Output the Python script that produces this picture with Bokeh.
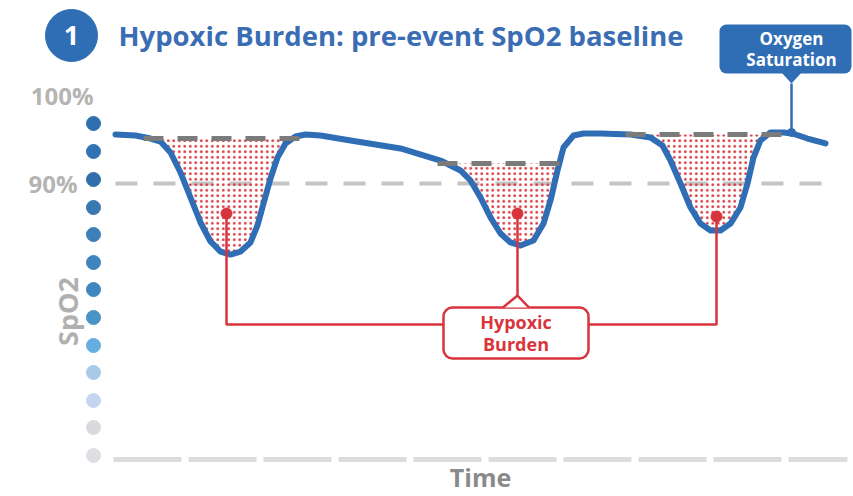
import numpy as np
from bokeh.plotting import figure
from bokeh.models import Range1d
from bokeh.core.properties import value
from bokeh.embed import file_html
from bokeh.resources import INLINE

# ---------------- data ----------------
time_s = [0, 20, 35, 45, 55, 65, 75, 85, 95, 105, 115, 125, 135, 142, 148, 155, 162, 170, 180, 190,
          205, 235, 285, 325, 345, 355, 365, 375, 385, 395, 405, 418, 428, 435, 442, 448, 458, 468, 485, 515,
          535, 547, 555, 565, 575, 585, 595, 605, 615, 625, 632, 638, 645, 655, 668, 677, 692, 710]
spo2 = [95.57, 95.45, 95.11, 94.77, 93.52, 91.25, 88.41, 85.57, 83.41, 82.27,
        81.93, 82.27, 83.30, 85.23, 87.73, 90.57, 92.95, 94.55, 95.34, 95.57,
        95.45, 94.89, 93.98, 92.61, 91.48, 90.34, 88.41, 86.14, 84.32, 83.30,
        82.95, 83.52, 85.45, 88.07, 91.48, 94.09, 95.45, 95.68, 95.68, 95.57,
        95.23, 94.32, 92.61, 90.00, 87.27, 85.45, 84.66, 84.66, 85.45, 87.27,
        90.00, 92.95, 94.89, 95.80, 95.80, 95.68, 95.11, 94.55]

event_fill_start = [35, 325, 515]
event_fill_end = [180, 448, 655]
event_baseline = [95.11, 92.27, 95.57]
baseline_start = [28, 322, 510]
baseline_end = [185, 455, 675]

threshold = 90
threshold_span = [0, 712]

burden_t = [111, 402, 601]
burden_s = [86.59, 86.59, 86.25]
connector_level = 73.98
burden_box = dict(left=328, right=473, top=75.91, bottom=70.11)
burden_pointer_peak = 77.27

sat_box = dict(left=604, right=736, top=108.07, bottom=102.5)
sat_pointer_t = 676
sat_pointer_tip = 101.36
sat_point_s = 95.80

scale_dot_t = -22
scale_dot_levels = [96.82, 93.64, 90.45, 87.27, 84.20, 81.02, 77.95, 74.77, 71.59, 68.52, 65.34, 62.27, 59.09]
scale_dot_colors = ["#2f6fb0", "#3272b3", "#2f6ea8", "#3a78b0", "#3d7fb8", "#4084bd", "#3f86c0", "#4a93c6",
                    "#66aee0", "#a9c9e8", "#c5d5ef", "#d9d9de", "#dedee3"]

tick_labels = ["100%", "90%"]
tick_values = [100, 90]

time_axis_level = 58.64
time_axis_span = [-2, 732]

BLUE = "#2f6eb5"
RED = "#d8343c"
FONT = value("Open Sans")

t = np.array(time_s, dtype=float)
s = np.array(spo2, dtype=float)

p = figure(width=853, height=496, x_range=Range1d(-115, 738), y_range=Range1d(54.432, 110.795),
           x_axis_type=None, y_axis_type=None, output_backend="svg", toolbar_location=None,
           min_border=0, background_fill_color="white", border_fill_color="white")
p.outline_line_color = None
p.grid.visible = False

# threshold 90% dashed line
p.line(threshold_span, [threshold, threshold], line_color="#c4c4c4", line_width=4, line_dash="22 16")

# hypoxic burden areas (dotted)
for st, en, base in zip(event_fill_start, event_fill_end, event_baseline):
    m = (t >= st) & (t <= en)
    p.varea(x=t[m], y1=np.minimum(s[m], base), y2=np.full(m.sum(), base),
            fill_alpha=0, hatch_pattern="dot", hatch_color=RED, hatch_scale=5.5, hatch_weight=1.3)

# SpO2 curve
p.line(t, s, line_color=BLUE, line_width=6, line_join="round", line_cap="round")

# pre-event baselines
for st, en, base in zip(baseline_start, baseline_end, event_baseline):
    p.line([st, en], [base, base], line_color="#7b7b7b", line_width=5, line_dash="20 14")

# time axis
p.line(time_axis_span, [time_axis_level] * 2, line_color="#dcdcdc", line_width=5, line_dash="68 7")

# connectors to "Hypoxic Burden" box
bl, br = burden_box["left"], burden_box["right"]
bt, bb = burden_box["top"], burden_box["bottom"]
bc = (bl + br) / 2
p.line([burden_t[0], burden_t[0], bl], [burden_s[0], connector_level, connector_level], line_color=RED, line_width=2.5)
p.line([burden_t[2], burden_t[2], br], [burden_s[2], connector_level, connector_level], line_color=RED, line_width=2.5)
p.line([burden_t[1], burden_t[1]], [burden_s[1], burden_pointer_peak], line_color=RED, line_width=2.5)
p.quad(left=[bl], right=[br], top=[bt], bottom=[bb], fill_color="white", line_color=RED, line_width=2.5,
       border_radius=9)
p.patch([bc - 13, burden_t[1], bc + 13], [bt, burden_pointer_peak, bt], fill_color="white", line_color=None)
p.line([bc - 13, burden_t[1], bc + 13], [bt, burden_pointer_peak, bt], line_color=RED, line_width=2.5)
p.scatter(burden_t, burden_s, size=11, color=RED)
p.text(x=[bc, bc], y=[(bt + bb) / 2 + 1.25, (bt + bb) / 2 - 1.3], text=["Hypoxic", "Burden"],
       text_color=RED, text_font=FONT, text_font_style="bold", text_font_size="18px",
       text_align="center", text_baseline="middle")

# "Oxygen Saturation" callout
sl, sr = sat_box["left"], sat_box["right"]
st_, sb = sat_box["top"], sat_box["bottom"]
p.line([sat_pointer_t, sat_pointer_t], [sat_pointer_tip, sat_point_s], line_color=BLUE, line_width=2.5)
p.scatter([sat_pointer_t], [sat_point_s], size=8, color=BLUE)
p.quad(left=[sl], right=[sr], top=[st_], bottom=[sb], fill_color=BLUE, line_color=None, border_radius=7)
p.patch([sat_pointer_t - 10, sat_pointer_t, sat_pointer_t + 10], [sb + 0.1, sat_pointer_tip, sb + 0.1],
        fill_color=BLUE, line_color=None)
p.text(x=[sat_pointer_t, sat_pointer_t], y=[(st_ + sb) / 2 + 1.2, (st_ + sb) / 2 - 1.2],
       text=["Oxygen", "Saturation"], text_color="white", text_font=FONT, text_font_style="bold",
       text_font_size="17px", text_align="center", text_baseline="middle")

# left dotted SpO2 scale
p.scatter([scale_dot_t] * len(scale_dot_levels), scale_dot_levels, size=14, color=scale_dot_colors)
p.text(x=[scale_dot_t, scale_dot_t - 16], y=tick_values, text=tick_labels, text_color="#b4b4b4",
       text_font=FONT, text_font_style="bold", text_font_size="24px", text_align="right",
       text_baseline="middle")
p.text(x=[-48], y=[75.45], text=["SpO2"], angle=np.pi / 2, text_color="#b0b0b0", text_font=FONT,
       text_font_style="bold", text_font_size="27px", text_align="center", text_baseline="middle")
p.text(x=[365], y=[56.65], text=["Time"], text_color="#8a8a8a", text_font=FONT, text_font_style="bold",
       text_font_size="25px", text_align="center", text_baseline="middle")

# title
p.scatter([-44], [106.82], size=52, color=BLUE)
p.text(x=[-44], y=[106.82], text=["1"], text_color="white", text_font=FONT, text_font_style="bold",
       text_font_size="27px", text_align="center", text_baseline="middle")
p.text(x=[3], y=[106.82], text=["Hypoxic Burden: pre-event SpO2 baseline"], text_color="#3a6db4",
       text_font=FONT, text_font_style="bold", text_font_size="27.5px", text_align="left",
       text_baseline="middle")

open("out.html", "w").write(file_html(p, INLINE))
